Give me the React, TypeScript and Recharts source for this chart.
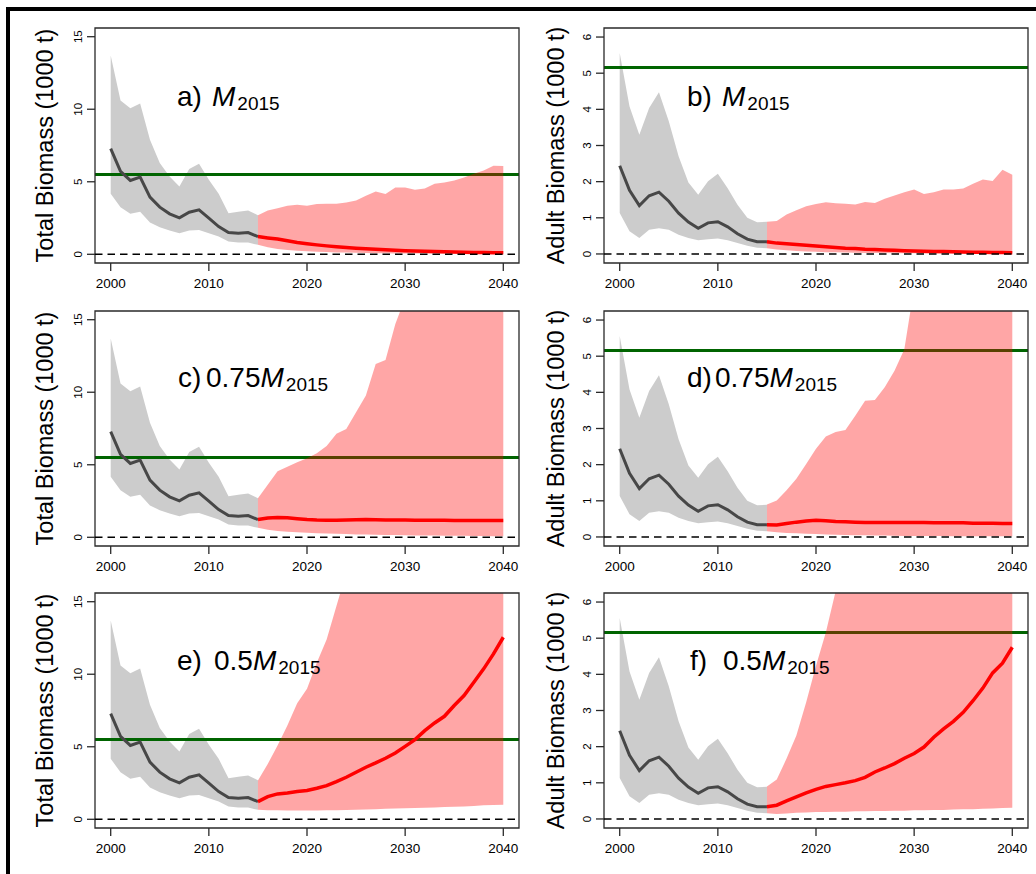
import React from 'react';
import { ComposedChart, Area, Line, XAxis, YAxis, ReferenceLine, ReferenceArea } from 'recharts';

// ---------------- DATA ----------------
const histYears = [2000, 2001, 2002, 2003, 2004, 2005, 2006, 2007, 2008, 2009, 2010, 2011, 2012, 2013, 2014, 2015];
const projYears = [2015, 2016, 2017, 2018, 2019, 2020, 2021, 2022, 2023, 2024, 2025, 2026, 2027, 2028, 2029, 2030, 2031, 2032, 2033, 2034, 2035, 2036, 2037, 2038, 2039, 2040];
const xTicks = [2000, 2010, 2020, 2030, 2040];
const totalTicks = [0, 5, 10, 15];
const adultTicks = [0, 1, 2, 3, 4, 5, 6];
const totalTarget = 5.5;
const adultTarget = 5.16;

// historical total biomass (1000 t)
const totalMed = [7.28, 5.71, 5.09, 5.32, 3.94, 3.25, 2.79, 2.51, 2.9, 3.06, 2.49, 1.91, 1.5, 1.45, 1.5, 1.22];
const totalHi = [13.7, 10.6, 10.07, 10.4, 7.9, 6.29, 5.37, 4.68, 5.88, 6.24, 5.14, 4.17, 2.83, 2.93, 3.02, 2.7];
const totalLo = [4.17, 3.25, 2.79, 2.93, 2.19, 1.87, 1.64, 1.45, 1.64, 1.68, 1.45, 1.22, 0.88, 0.81, 0.81, 0.65];

// historical adult biomass (1000 t)
const adultMed = [2.44, 1.76, 1.34, 1.61, 1.71, 1.46, 1.13, 0.88, 0.71, 0.86, 0.89, 0.75, 0.56, 0.41, 0.34, 0.34];
const adultHi = [5.56, 4.08, 3.3, 4.04, 4.47, 3.67, 2.7, 1.98, 1.64, 2.01, 2.22, 1.82, 1.36, 1.0, 0.88, 0.89];
const adultLo = [1.13, 0.63, 0.44, 0.67, 0.71, 0.67, 0.53, 0.44, 0.38, 0.41, 0.43, 0.38, 0.3, 0.23, 0.17, 0.16];

// a) total, M2015
const aMed = [1.22, 1.13, 1.05, 0.93, 0.82, 0.73, 0.65, 0.58, 0.52, 0.47, 0.42, 0.38, 0.34, 0.31, 0.28, 0.25, 0.23, 0.21, 0.19, 0.17, 0.16, 0.14, 0.13, 0.12, 0.11, 0.1];
const aHi = [2.7, 3.02, 3.18, 3.34, 3.41, 3.34, 3.46, 3.48, 3.48, 3.57, 3.71, 4.03, 4.33, 4.15, 4.61, 4.61, 4.45, 4.54, 4.86, 4.95, 5.09, 5.3, 5.55, 5.78, 6.1, 6.08];
const aLo = [0.65, 0.48, 0.37, 0.3, 0.25, 0.21, 0.18, 0.15, 0.13, 0.12, 0.1, 0.09, 0.08, 0.07, 0.06, 0.06, 0.05, 0.05, 0.04, 0.04, 0.03, 0.03, 0.03, 0.02, 0.02, 0.02];

// b) adult, M2015
const bMed = [0.34, 0.3, 0.28, 0.26, 0.24, 0.22, 0.2, 0.18, 0.16, 0.15, 0.13, 0.12, 0.11, 0.1, 0.09, 0.08, 0.075, 0.07, 0.065, 0.06, 0.055, 0.05, 0.045, 0.04, 0.04, 0.035];
const bHi = [0.89, 0.91, 1.09, 1.21, 1.32, 1.38, 1.43, 1.4, 1.39, 1.37, 1.44, 1.41, 1.53, 1.62, 1.71, 1.78, 1.66, 1.71, 1.78, 1.78, 1.81, 1.94, 2.06, 2.02, 2.33, 2.19];
const bLo = [0.16, 0.12, 0.1, 0.08, 0.07, 0.06, 0.05, 0.045, 0.04, 0.035, 0.03, 0.03, 0.025, 0.02, 0.02, 0.02, 0.015, 0.015, 0.01, 0.01, 0.01, 0.01, 0.01, 0.01, 0.01, 0.01];

// c) total, 0.75 M2015
const cMed = [1.22, 1.33, 1.37, 1.34, 1.28, 1.22, 1.19, 1.18, 1.18, 1.19, 1.21, 1.22, 1.21, 1.2, 1.19, 1.19, 1.18, 1.18, 1.17, 1.17, 1.16, 1.16, 1.16, 1.15, 1.15, 1.15];
const cHi = [2.7, 3.63, 4.55, 4.87, 5.17, 5.45, 5.79, 6.3, 7.13, 7.47, 8.62, 9.77, 11.95, 12.23, 14.7, 16.5, 18, 19.5, 21, 22, 23.5, 25, 26, 27.5, 29, 30];
const cLo = [0.65, 0.52, 0.44, 0.38, 0.34, 0.31, 0.28, 0.26, 0.24, 0.22, 0.2, 0.19, 0.18, 0.16, 0.15, 0.14, 0.13, 0.12, 0.12, 0.11, 0.1, 0.1, 0.09, 0.09, 0.08, 0.08];

// d) adult, 0.75 M2015
const dMed = [0.34, 0.33, 0.37, 0.41, 0.44, 0.46, 0.45, 0.43, 0.42, 0.41, 0.4, 0.4, 0.4, 0.4, 0.4, 0.4, 0.4, 0.39, 0.39, 0.39, 0.39, 0.38, 0.38, 0.38, 0.37, 0.37];
const dHi = [0.9, 1.01, 1.29, 1.61, 2.02, 2.44, 2.78, 2.9, 2.96, 3.35, 3.77, 3.79, 4.14, 4.6, 5.19, 6.9, 7.5, 8.2, 9.0, 9.8, 10.5, 11.2, 12.0, 12.8, 13.5, 14.2];
const dLo = [0.16, 0.13, 0.11, 0.1, 0.09, 0.08, 0.07, 0.06, 0.055, 0.05, 0.045, 0.04, 0.04, 0.035, 0.03, 0.03, 0.03, 0.025, 0.025, 0.02, 0.02, 0.02, 0.02, 0.02, 0.02, 0.02];

// e) total, 0.5 M2015
const eMed = [1.22, 1.56, 1.75, 1.82, 1.91, 1.98, 2.14, 2.32, 2.6, 2.9, 3.24, 3.59, 3.89, 4.21, 4.57, 5.03, 5.49, 6.11, 6.64, 7.1, 7.84, 8.53, 9.45, 10.37, 11.4, 12.55];
const eHi = [2.67, 3.82, 5.08, 6.46, 8.0, 9.0, 10.8, 12.4, 14.7, 17, 19, 21, 23, 25, 27, 29, 31, 33, 35, 37, 39, 41, 43, 45, 47, 49];
const eLo = [0.65, 0.63, 0.62, 0.61, 0.6, 0.6, 0.61, 0.62, 0.63, 0.64, 0.66, 0.68, 0.7, 0.72, 0.74, 0.76, 0.78, 0.8, 0.82, 0.84, 0.86, 0.88, 0.92, 0.96, 0.98, 1.01];

// f) adult, 0.5 M2015
const fMed = [0.34, 0.38, 0.5, 0.61, 0.72, 0.82, 0.9, 0.95, 1.0, 1.06, 1.15, 1.3, 1.41, 1.53, 1.68, 1.81, 1.99, 2.26, 2.49, 2.7, 2.95, 3.27, 3.62, 4.04, 4.31, 4.75];
const fHi = [0.9, 1.09, 1.67, 2.31, 3.23, 4.24, 5.16, 6.3, 7.3, 8.4, 9.5, 10.6, 11.7, 12.8, 13.9, 15, 16, 17, 18, 19, 20, 21, 22, 23, 24, 25];
const fLo = [0.16, 0.14, 0.15, 0.17, 0.18, 0.19, 0.19, 0.2, 0.2, 0.21, 0.21, 0.22, 0.22, 0.23, 0.23, 0.24, 0.24, 0.25, 0.25, 0.26, 0.27, 0.27, 0.28, 0.29, 0.3, 0.31];

// ---------------- LAYOUT / STYLE ----------------
const FONT = '"Liberation Sans", Arial, Helvetica, sans-serif';
const X_MIN = 1998.4;
const X_MAX = 2041.6;
const BOX_W = 424;
const BOX_H = 235;
const Y_W = 90;
const X_H = 40;
const M_TOP = 4;
const M_RIGHT = 4;
const COL_LEFT = [95, 604];
const ROW_TOP = [28, 311, 593];
const YLABEL_BASE = [53.3, 563.7];

const GREY_BAND = '#cccccc';
const DARK_LINE = '#474747';
const RED = '#ff0000';
const GREEN = '#006400';
const BOX = '#2a2a2a';

type Spec = {
  id: string;
  prefix: string;
  coef: string;
  col: number;
  row: number;
  prefixX: number;
  bodyX: number;
  baseline: number;
  yLabel: string;
  yTicks: number[];
  yDomain: [number, number];
  target: number;
  hMed: number[];
  hLo: number[];
  hHi: number[];
  pMed: number[];
  pLo: number[];
  pHi: number[];
};

const specs: Spec[] = [
  { id: 'a', prefix: 'a)', coef: '', col: 0, row: 0, prefixX: 177, bodyX: 212, baseline: 106, yLabel: 'Total Biomass (1000 t)', yTicks: totalTicks, yDomain: [-0.6, 15.6], target: totalTarget, hMed: totalMed, hLo: totalLo, hHi: totalHi, pMed: aMed, pLo: aLo, pHi: aHi },
  { id: 'b', prefix: 'b)', coef: '', col: 1, row: 0, prefixX: 687, bodyX: 722, baseline: 106, yLabel: 'Adult Biomass (1000 t)', yTicks: adultTicks, yDomain: [-0.25, 6.25], target: adultTarget, hMed: adultMed, hLo: adultLo, hHi: adultHi, pMed: bMed, pLo: bLo, pHi: bHi },
  { id: 'c', prefix: 'c)', coef: '0.75', col: 0, row: 1, prefixX: 178, bodyX: 206, baseline: 387, yLabel: 'Total Biomass (1000 t)', yTicks: totalTicks, yDomain: [-0.6, 15.6], target: totalTarget, hMed: totalMed, hLo: totalLo, hHi: totalHi, pMed: cMed, pLo: cLo, pHi: cHi },
  { id: 'd', prefix: 'd)', coef: '0.75', col: 1, row: 1, prefixX: 687, bodyX: 715, baseline: 387, yLabel: 'Adult Biomass (1000 t)', yTicks: adultTicks, yDomain: [-0.25, 6.25], target: adultTarget, hMed: adultMed, hLo: adultLo, hHi: adultHi, pMed: dMed, pLo: dLo, pHi: dHi },
  { id: 'e', prefix: 'e)', coef: '0.5', col: 0, row: 2, prefixX: 177, bodyX: 214, baseline: 670, yLabel: 'Total Biomass (1000 t)', yTicks: totalTicks, yDomain: [-0.6, 15.6], target: totalTarget, hMed: totalMed, hLo: totalLo, hHi: totalHi, pMed: eMed, pLo: eLo, pHi: eHi },
  { id: 'f', prefix: 'f)', coef: '0.5', col: 1, row: 2, prefixX: 690, bodyX: 723, baseline: 670, yLabel: 'Adult Biomass (1000 t)', yTicks: adultTicks, yDomain: [-0.25, 6.25], target: adultTarget, hMed: adultMed, hLo: adultLo, hHi: adultHi, pMed: fMed, pLo: fLo, pHi: fHi },
];

const RotatedTick = (props: any) => {
  const { x, y, payload } = props;
  return (
    <text
      x={x}
      y={y}
      transform={`rotate(-90, ${x}, ${y})`}
      textAnchor="middle"
      fontSize={11.5}
      fontFamily={FONT}
      fill="#000"
    >
      {payload.value}
    </text>
  );
};

function Panel({ spec }: { spec: Spec }) {
  const histData = histYears.map((year, i) => ({ year, band: [spec.hLo[i], spec.hHi[i]], med: spec.hMed[i] }));
  const projData = projYears.map((year, i) => ({ year, band: [spec.pLo[i], spec.pHi[i]], med: spec.pMed[i] }));
  const targetData = [
    { year: X_MIN, v: spec.target },
    { year: X_MAX, v: spec.target },
  ];
  const boxLeft = COL_LEFT[spec.col];
  const boxTop = ROW_TOP[spec.row];
  const [yMin, yMax] = spec.yDomain;
  return (
    <div style={{ position: 'absolute', left: boxLeft - Y_W, top: boxTop - M_TOP }}>
      <ComposedChart
        width={Y_W + BOX_W + M_RIGHT}
        height={M_TOP + BOX_H + X_H}
        margin={{ top: M_TOP, right: M_RIGHT, bottom: 0, left: 0 }}
      >
        <XAxis
          type="number"
          dataKey="year"
          domain={[X_MIN, X_MAX]}
          ticks={xTicks}
          interval={0}
          allowDataOverflow
          axisLine={false}
          tickLine={{ stroke: BOX, strokeWidth: 1.3 }}
          tickSize={8}
          tickMargin={7}
          height={X_H}
          tick={{ fontSize: 13.5, fill: '#000', fontFamily: FONT }}
        />
        <YAxis
          type="number"
          domain={[yMin, yMax]}
          ticks={spec.yTicks}
          interval={0}
          allowDataOverflow
          axisLine={false}
          tickLine={{ stroke: BOX, strokeWidth: 1.3 }}
          tickSize={8}
          tickMargin={5}
          width={Y_W}
          tick={RotatedTick}
        />
        <Area
          data={histData}
          dataKey="band"
          type="linear"
          fill={GREY_BAND}
          fillOpacity={1}
          stroke="none"
          isAnimationActive={false}
        />
        <Area
          data={targetData}
          dataKey="v"
          type="linear"
          fill="none"
          stroke={GREEN}
          strokeWidth={3}
          isAnimationActive={false}
        />
        <Area
          data={projData}
          dataKey="band"
          type="linear"
          fill={RED}
          fillOpacity={0.35}
          stroke="none"
          isAnimationActive={false}
        />
        <Line
          data={histData}
          dataKey="med"
          type="linear"
          stroke={DARK_LINE}
          strokeWidth={3}
          dot={false}
          activeDot={false}
          isAnimationActive={false}
        />
        <Line
          data={projData}
          dataKey="med"
          type="linear"
          stroke={RED}
          strokeWidth={3.5}
          dot={false}
          activeDot={false}
          isAnimationActive={false}
        />
        <ReferenceLine y={0} stroke="#000" strokeWidth={1.5} strokeDasharray="7.5 5" ifOverflow="visible" />
        <ReferenceArea
          x1={X_MIN}
          x2={X_MAX}
          y1={yMin}
          y2={yMax}
          fill="none"
          fillOpacity={0}
          stroke={BOX}
          strokeWidth={1.3}
          ifOverflow="visible"
        />
      </ComposedChart>
    </div>
  );
}

export default function App() {
  return (
    <div
      style={{
        position: 'absolute',
        left: 0,
        top: 0,
        width: 1036,
        height: 874,
        overflow: 'hidden',
        background: '#fff',
        fontFamily: FONT,
      }}
    >
      <div
        style={{
          position: 'absolute',
          left: 6,
          top: 7,
          width: 1100,
          height: 1000,
          borderLeft: '4px solid #000',
          borderTop: '4px solid #000',
        }}
      />
      {specs.map((s) => (
        <Panel key={s.id} spec={s} />
      ))}
      <svg
        width={1036}
        height={874}
        style={{ position: 'absolute', left: 0, top: 0, pointerEvents: 'none' }}
      >
        {specs.map((s) => {
          const cy = ROW_TOP[s.row] + BOX_H / 2;
          const bx = YLABEL_BASE[s.col];
          return (
            <g key={s.id}>
              <text
                transform={`translate(${bx}, ${cy}) rotate(-90)`}
                textAnchor="middle"
                fontSize={23.5}
                fontFamily={FONT}
                fill="#000"
              >
                {s.yLabel}
              </text>
              <text x={s.prefixX} y={s.baseline} fontSize={28} fontFamily={FONT} fill="#000">
                <tspan>{s.prefix}</tspan>
                {s.coef ? (
                  <>
                    <tspan x={s.bodyX}>{s.coef}</tspan>
                    <tspan fontStyle="italic">M</tspan>
                  </>
                ) : (
                  <tspan x={s.bodyX} fontStyle="italic">M</tspan>
                )}
                <tspan fontSize={19} dx={2} dy={4}>2015</tspan>
              </text>
            </g>
          );
        })}
      </svg>
    </div>
  );
}
